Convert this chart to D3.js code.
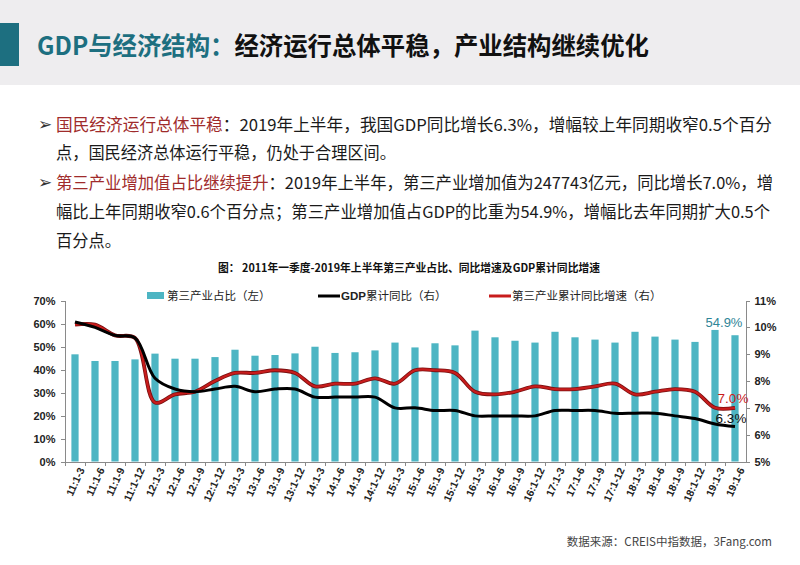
<!DOCTYPE html>
<html>
<head>
<meta charset="utf-8">
<title>GDP与经济结构</title>
<script src="https://cdn.jsdelivr.net/npm/d3@7"></script>
<style>
  body { margin: 0; background: #fff; }
  svg { display: block; }
  .cn { font-family: "Noto Sans CJK SC", sans-serif; }
  .axis text { font-family: "Liberation Sans", Arial, sans-serif; font-weight: bold; fill: #222; }
  .axis path, .axis line { stroke: #8a8a8a; shape-rendering: crispEdges; }
</style>
</head>
<body>
<script>
// category labels (cumulative quarters)
var quarters = ["11:1-3","11:1-6","11:1-9","11:1-12",
                "12:1-3","12:1-6","12:1-9","12:1-12",
                "13:1-3","13:1-6","13:1-9","13:1-12",
                "14:1-3","14:1-6","14:1-9","14:1-12",
                "15:1-3","15:1-6","15:1-9","15:1-12",
                "16:1-3","16:1-6","16:1-9","16:1-12",
                "17:1-3","17:1-6","17:1-9","17:1-12",
                "18:1-3","18:1-6","18:1-9","18:1-12",
                "19:1-3","19:1-6"];
// 第三产业占比（左）, %
var tertiaryShare = [46.6,43.7,43.7,44.4, 46.9,44.7,44.7,45.4, 48.6,46.0,46.3,47.0,
                     49.9,47.2,47.5,48.3, 51.7,49.6,51.4,50.5, 56.9,54.0,52.5,51.7,
                     56.4,54.0,53.0,51.7, 56.4,54.3,53.0,52.0, 57.2,54.9];
// GDP累计同比（右）, %
var gdpGrowth = [10.2,10.0,9.7,9.6, 8.1,7.7,7.6,7.7, 7.8,7.6,7.7,7.7,
                 7.4,7.4,7.4,7.4, 7.0,7.0,6.9,6.9, 6.7,6.7,6.7,6.7,
                 6.9,6.9,6.9,6.8, 6.8,6.8,6.7,6.6, 6.4,6.3];
// 第三产业累计同比增速（右）, %
var tertiaryGrowth = [10.1,10.1,9.7,9.6, 7.2,7.5,7.6,8.0, 8.3,8.3,8.4,8.3,
                      7.8,7.9,7.9,8.1, 7.9,8.4,8.4,8.3, 7.6,7.5,7.6,7.8,
                      7.7,7.7,7.8,7.9, 7.5,7.6,7.7,7.6, 7.0,7.0];
var leftTicks = [0,10,20,30,40,50,60,70];
var rightTicks = [5,6,7,8,9,10,11];

var width = 800, height = 565;
var teal = "#1d6f80", barColor = "#4db5c3", red = "#c81c1c", darkRed = "#a02b2b";

var svg = d3.select("body").append("svg")
  .attr("width", width).attr("height", height);

// header band
svg.append("rect").attr("x", 0).attr("y", 0).attr("width", width).attr("height", 85).attr("fill", "#eeedef");
svg.append("rect").attr("x", 0).attr("y", 23).attr("width", 19).attr("height", 43).attr("fill", teal);
var title = svg.append("text").attr("class", "cn")
  .attr("x", 37).attr("y", 55)
  .attr("font-size", "25px").attr("font-weight", "bold")
  .attr("textLength", 612).attr("lengthAdjust", "spacingAndGlyphs");
title.append("tspan").attr("fill", teal).text("GDP与经济结构：");
title.append("tspan").attr("fill", "#111").text("经济运行总体平稳，产业结构继续优化");

// body paragraphs
var lines = [
  {y: 131, w: 716, bullet: true, parts: [["国民经济运行总体平稳", darkRed], ["：2019年上半年，我国GDP同比增长6.3%，增幅较上年同期收窄0.5个百分", "#1a1a1a"]]},
  {y: 159, w: 340, parts: [["点，国民经济总体运行平稳，仍处于合理区间。", "#1a1a1a"]]},
  {y: 189, w: 717, bullet: true, parts: [["第三产业增加值占比继续提升", darkRed], ["：2019年上半年，第三产业增加值为247743亿元，同比增长7.0%，增", "#1a1a1a"]]},
  {y: 218, w: 714, parts: [["幅比上年同期收窄0.6个百分点；第三产业增加值占GDP的比重为54.9%，增幅比去年同期扩大0.5个", "#1a1a1a"]]},
  {y: 247, w: 65, parts: [["百分点。", "#1a1a1a"]]}
];
lines.forEach(function (l) {
  if (l.bullet) {
    svg.append("text").attr("x", 38).attr("y", l.y - 1)
      .attr("font-family", "DejaVu Sans").attr("font-size", "17px").attr("font-weight", "bold")
      .attr("fill", "#333")
      .text("➢");
  }
  var t = svg.append("text").attr("class", "cn")
    .attr("x", 56).attr("y", l.y).attr("font-size", "16.5px")
    .attr("textLength", l.w).attr("lengthAdjust", "spacingAndGlyphs");
  l.parts.forEach(function (p) {
    t.append("tspan").attr("fill", p[1]).text(p[0]);
  });
});

// chart caption
svg.append("text").attr("class", "cn")
  .attr("x", 409).attr("y", 272).attr("text-anchor", "middle")
  .attr("font-size", "11px").attr("font-weight", "bold").attr("fill", "#111")
  .attr("textLength", 382).attr("lengthAdjust", "spacingAndGlyphs")
  .text("图：  2011年一季度-2019年上半年第三产业占比、同比增速及GDP累计同比增速");

// scales
var x = d3.scaleBand().domain(quarters).range([65, 745]).paddingInner(0.64).paddingOuter(0.32);
var yL = d3.scaleLinear().domain([0, 70]).range([461.5, 300.5]);
var yR = d3.scaleLinear().domain([5, 11]).range([461.5, 300.5]);

// bars
svg.append("g").selectAll("rect")
  .data(tertiaryShare)
  .enter()
  .append("rect")
  .attr("x", function (d, i) { return x(quarters[i]); })
  .attr("y", function (d) { return yL(d); })
  .attr("width", x.bandwidth())
  .attr("height", function (d) { return yL(0) - yL(d); })
  .attr("fill", barColor);

// lines
var line = function (scale) {
  return d3.line()
    .x(function (d, i) { return x(quarters[i]) + x.bandwidth() / 2; })
    .y(function (d) { return scale(d); })
    .curve(d3.curveCatmullRom.alpha(0.5));
};
svg.append("path").datum(tertiaryGrowth)
  .attr("d", line(yR)).attr("fill", "none")
  .attr("stroke", "#7a1010").attr("stroke-width", 3.8).attr("stroke-linejoin", "round");
svg.append("path").datum(tertiaryGrowth)
  .attr("d", line(yR)).attr("fill", "none")
  .attr("stroke", red).attr("stroke-width", 2.2).attr("stroke-linejoin", "round");
svg.append("path").datum(gdpGrowth)
  .attr("d", line(yR)).attr("fill", "none")
  .attr("stroke", "#000").attr("stroke-width", 3).attr("stroke-linejoin", "round");

// axes
svg.append("g").attr("class", "axis")
  .attr("transform", "translate(64.5,0)")
  .call(d3.axisLeft(yL).tickValues(leftTicks).tickSize(4).tickSizeOuter(0)
    .tickFormat(function (d) { return d + "%"; }))
  .selectAll("text").attr("font-size", "11px").attr("dx", "-2");

svg.append("g").attr("class", "axis")
  .attr("transform", "translate(745.5,0)")
  .call(d3.axisRight(yR).tickValues(rightTicks).tickSize(4).tickSizeOuter(0)
    .tickFormat(function (d) { return d + "%"; }))
  .selectAll("text").attr("font-size", "11px").attr("dx", "2");

var xAxis = svg.append("g").attr("class", "axis")
  .attr("transform", "translate(0," + yL(0) + ")")
  .call(d3.axisBottom(x).tickSize(4).tickSizeOuter(0));
xAxis.select(".domain").attr("d", "M64.5,0.5H745.5");
xAxis.selectAll(".tick line")
  .attr("x1", -x.step() / 2).attr("x2", -x.step() / 2);
xAxis.selectAll(".tick text")
  .attr("font-size", "10.5px")
  .attr("text-anchor", "end")
  .attr("transform", "translate(3,5) rotate(-65)")
  .attr("dx", "0").attr("dy", "0.35em")
  .attr("y", 4);

// legend
var lg = svg.append("g").attr("class", "cn").attr("font-size", "11.5px").attr("fill", "#222");
lg.append("rect").attr("x", 147).attr("y", 292).attr("width", 17).attr("height", 7).attr("fill", barColor);
lg.append("text").attr("x", 167).attr("y", 300).text("第三产业占比（左）");
lg.append("line").attr("x1", 318).attr("x2", 340).attr("y1", 296).attr("y2", 296)
  .attr("stroke", "#000").attr("stroke-width", 3);
var gl = lg.append("text").attr("x", 341).attr("y", 300);
gl.append("tspan").attr("font-family", "Liberation Sans").attr("font-weight", "bold").text("GDP");
gl.append("tspan").text("累计同比（右）");
lg.append("line").attr("x1", 489).attr("x2", 511).attr("y1", 296).attr("y2", 296)
  .attr("stroke", red).attr("stroke-width", 3);
lg.append("text").attr("x", 512).attr("y", 300).text("第三产业累计同比增速（右）");

// end labels
var last = quarters.length - 1;
var cx = function (i) { return x(quarters[i]) + x.bandwidth() / 2; };
svg.append("text").attr("x", cx(last) - 11).attr("y", yL(tertiaryShare[last - 1]) - 3)
  .attr("text-anchor", "middle").attr("font-family", "Liberation Sans").attr("font-size", "13px")
  .attr("fill", "#2f8597").text(tertiaryShare[last].toFixed(1) + "%");
svg.append("text").attr("x", cx(last) - 2).attr("y", yR(tertiaryGrowth[last]) - 5)
  .attr("text-anchor", "middle").attr("font-family", "Liberation Sans").attr("font-size", "13.5px")
  .attr("fill", red).text(tertiaryGrowth[last].toFixed(1) + "%");
svg.append("text").attr("x", cx(last) - 4).attr("y", yR(gdpGrowth[last]) - 4)
  .attr("text-anchor", "middle").attr("font-family", "Liberation Sans").attr("font-size", "13.5px")
  .attr("fill", "#111").text(gdpGrowth[last].toFixed(1) + "%");

// source
svg.append("text").attr("class", "cn")
  .attr("x", 772).attr("y", 546).attr("text-anchor", "end")
  .attr("font-size", "11.5px").attr("fill", "#444")
  .text("数据来源：CREIS中指数据，3Fang.com");
</script>
</body>
</html>
